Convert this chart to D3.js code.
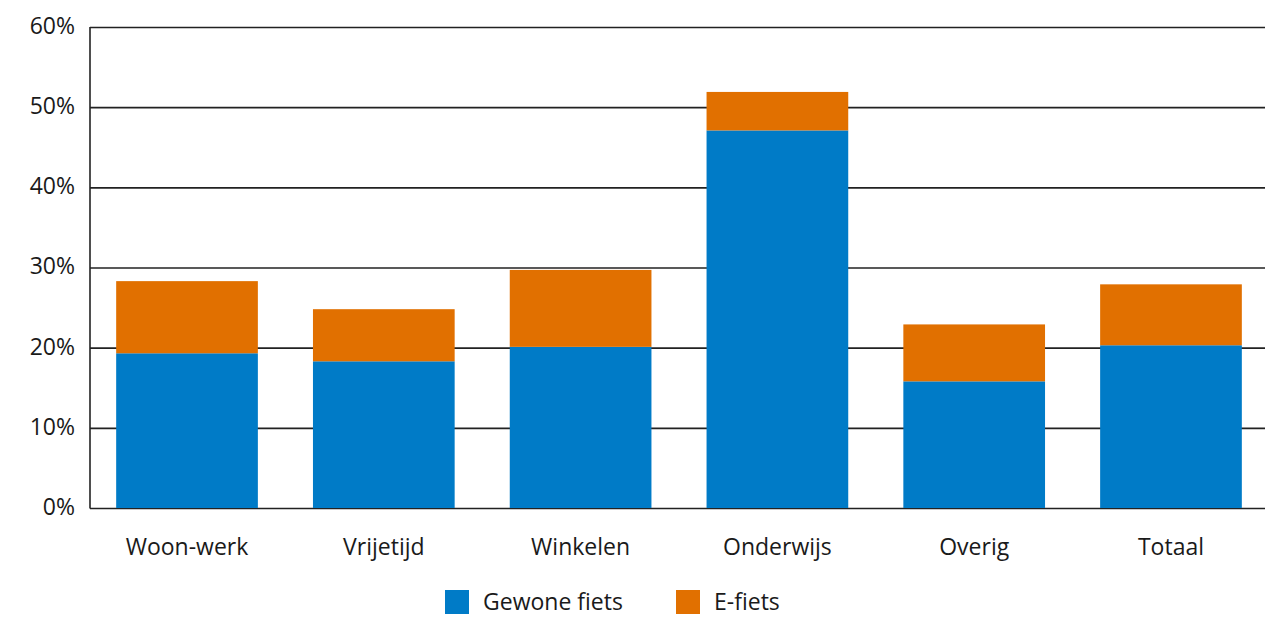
<!DOCTYPE html>
<html>
<head>
<meta charset="utf-8">
<script src="https://cdn.jsdelivr.net/npm/d3@7"></script>
<style>
  html, body { margin: 0; padding: 0; background: #fff; }
  svg { display: block; }
  text { font-family: "Open Sans", "Noto Sans", sans-serif; fill: #1a1a1a; }
</style>
</head>
<body>
<svg id="chart" width="1275" height="617"></svg>
<script>
// Aandeel fietsverplaatsingen per motief (%)
const categories = ["Woon-werk", "Vrijetijd", "Winkelen", "Onderwijs", "Overig", "Totaal"];
const gewoneFiets = [19.3, 18.3, 20.1, 47.1, 15.8, 20.3];
const eFiets = [9.0, 6.5, 9.6, 4.8, 7.1, 7.6];
const tickValues = [0, 10, 20, 30, 40, 50, 60];
const seriesNames = ["Gewone fiets", "E-fiets"];
const seriesColors = ["#007bc7", "#e17000"];

(function draw() {
  const svg = d3.select("#chart");
  const plotLeft = 90, plotRight = 1268, plotTop = 27, plotBottom = 508;

  const x = d3.scaleBand().domain(categories).range([plotLeft, plotRight]).paddingInner(0.28).paddingOuter(0.133);
  const y = d3.scaleLinear().domain([0, 60]).range([plotBottom, plotTop]);

  // Horizontal gridlines
  svg.append("g").selectAll("line").data(tickValues).join("line")
    .attr("x1", plotLeft).attr("x2", plotRight - 3)
    .attr("y1", d => y(d) + 0.5).attr("y2", d => y(d) + 0.5)
    .attr("stroke", "#222").attr("stroke-width", 1.6);

  // Y axis labels
  const yAxis = d3.axisLeft(y).tickValues(tickValues).tickFormat(d => d + "%").tickSize(0).tickPadding(15);
  const yg = svg.append("g").attr("transform", `translate(${plotLeft},0)`).call(yAxis);
  yg.select(".domain").remove();
  yg.selectAll("text").attr("font-size", 23).attr("fill", "#1a1a1a").attr("dy", "0.28em")
    .style("font-family", '"Open Sans", sans-serif');

  // Stacked bars
  const rows = categories.map((c, i) => ({ cat: c, g: gewoneFiets[i], e: eFiets[i] }));
  const stack = d3.stack().keys(["g", "e"])(rows);
  svg.append("g").selectAll("g").data(stack).join("g")
    .attr("fill", (d, i) => seriesColors[i])
    .selectAll("rect").data(d => d).join("rect")
    .attr("x", d => x(d.data.cat))
    .attr("width", x.bandwidth())
    .attr("y", d => y(d[1]))
    .attr("height", d => y(d[0]) - y(d[1]));

  // Vertical axis line
  svg.append("line").attr("x1", plotLeft).attr("x2", plotLeft).attr("y1", plotTop).attr("y2", plotBottom + 0.5)
    .attr("stroke", "#222").attr("stroke-width", 1.6);

  // Category labels
  const xAxis = d3.axisBottom(x).tickSize(0).tickPadding(31);
  const xg = svg.append("g").attr("transform", `translate(0,${plotBottom})`).call(xAxis);
  xg.select(".domain").remove();
  xg.selectAll("text").attr("font-size", 23).attr("fill", "#1a1a1a")
    .style("font-family", '"Open Sans", sans-serif');

  // Legend
  const legendX = [445, 676];
  const lg = svg.append("g").selectAll("g").data(seriesNames).join("g")
    .attr("transform", (d, i) => `translate(${legendX[i]},590)`);
  lg.append("rect").attr("width", 24).attr("height", 24).attr("fill", (d, i) => seriesColors[i]);
  lg.append("text").attr("x", 38).attr("y", 20).attr("font-size", 23).text(d => d);
})();
</script>
</body>
</html>
